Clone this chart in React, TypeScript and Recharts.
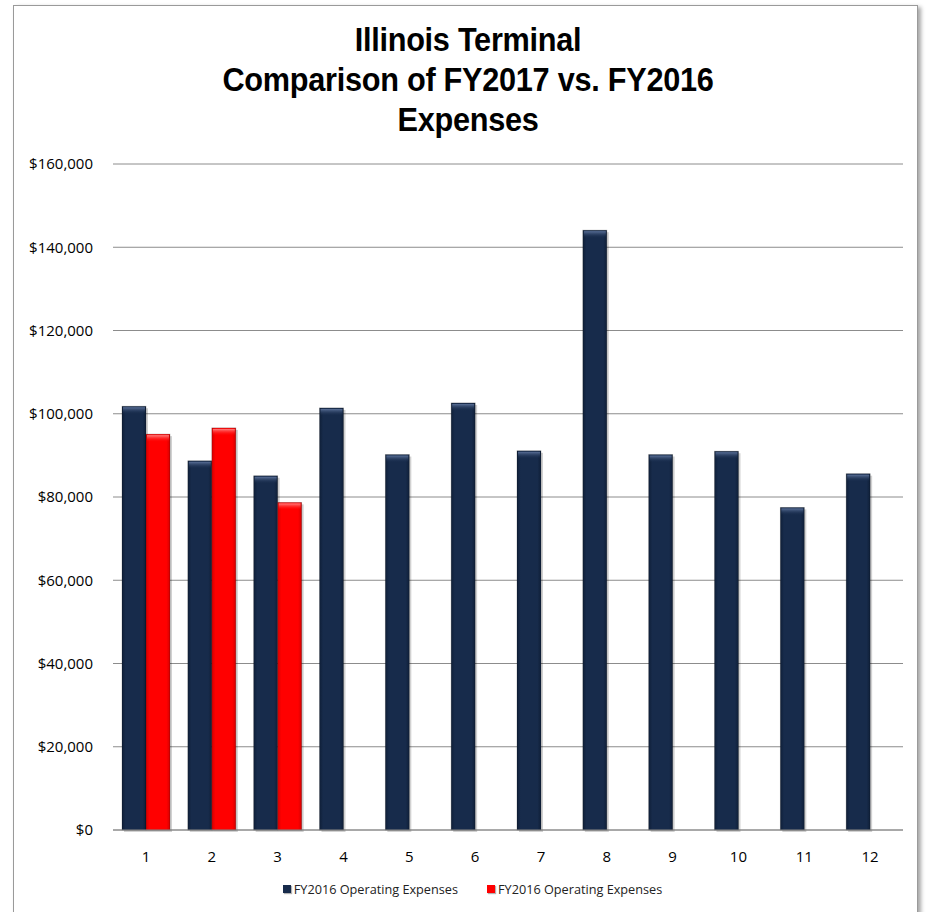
import React from 'react';
import { BarChart, Bar, XAxis, YAxis, CartesianGrid, Legend } from 'recharts';

const months = ['1', '2', '3', '4', '5', '6', '7', '8', '9', '10', '11', '12'];
const fy2016Expenses = [101800, 88700, 85100, 101400, 90200, 102600, 91100, 144100, 90200, 91000, 77500, 85600];
const fy2017Expenses = [95100, 96600, 78700, null, null, null, null, null, null, null, null, null];
const yTicks = [0, 20000, 40000, 60000, 80000, 100000, 120000, 140000, 160000];
const titleLines = ['Illinois Terminal', 'Comparison of FY2017 vs. FY2016', 'Expenses'];

const NAVY = '#172b4b';
const RED = '#ff0000';

const data = months.map((m, i) => ({
  month: m,
  fy2016: fy2016Expenses[i],
  fy2017: fy2017Expenses[i],
}));

const fmtDollar = (v: number) => '$' + v.toLocaleString('en-US');

const BevelBar = (props: any) => {
  const { x, y, width, height, gradId } = props;
  if (!height || height <= 0) return null;
  return (
    <g>
      <rect x={x + 2} y={y + 2} width={width} height={height} fill="rgba(0,0,0,0.18)" />
      <rect x={x} y={y} width={width} height={height} fill={`url(#${gradId})`} stroke="rgba(0,0,0,0.25)" strokeWidth={0.8} />
      <rect x={x + 1} y={y + 1} width={width - 2} height={7} fill={`url(#${gradId}-cap)`} />
    </g>
  );
};

const LegendContent = (props: any) => {
  const { payload } = props;
  return (
    <div style={{ display: 'flex', justifyContent: 'center', gap: 29, fontFamily: "'Open Sans', sans-serif", fontSize: 12.7, color: '#222' }}>
      {(payload || []).map((p: any) => (
        <div key={p.dataKey} style={{ display: 'flex', alignItems: 'center' }}>
          <span style={{ display: 'inline-block', width: 8, height: 8, background: p.color, marginRight: 3, boxShadow: '1px 1px 1px rgba(0,0,0,0.3)' }} />
          <span>{p.value}</span>
        </div>
      ))}
    </div>
  );
};

export default function App() {
  return (
    <div style={{ position: 'absolute', left: 0, top: 0, width: 927, height: 912, overflow: 'hidden', background: '#fff' }}>
      <div style={{ position: 'absolute', left: 13, top: 5, width: 903, height: 930, border: '1px solid #9a9a9a', boxShadow: '3px 2px 4px rgba(0,0,0,0.35)', background: '#fff' }} />
      <div style={{ position: 'absolute', left: 0, top: 20, width: 936, textAlign: 'center', fontFamily: "'Liberation Sans', sans-serif", fontWeight: 'bold', fontSize: 33, lineHeight: '40px', color: '#000', letterSpacing: -0.3, transform: 'scaleX(0.93)', transformOrigin: '468px 0' }}>
        {titleLines.map((t) => (
          <div key={t}>{t}</div>
        ))}
      </div>
      <div style={{ position: 'absolute', left: 0, top: 0 }}>
        <BarChart
          width={927}
          height={912}
          data={data}
          margin={{ top: 164, right: 24, left: 13, bottom: 52 }}
          barCategoryGap={9}
          barGap={0}
        >
          <defs>
            <linearGradient id="navyGrad" x1="0" y1="0" x2="1" y2="0">
              <stop offset="0%" stopColor="#0f1f38" />
              <stop offset="15%" stopColor={NAVY} />
              <stop offset="85%" stopColor={NAVY} />
              <stop offset="100%" stopColor="#0f1f38" />
            </linearGradient>
            <linearGradient id="navyGrad-cap" x1="0" y1="0" x2="0" y2="1">
              <stop offset="0%" stopColor="#5a7098" />
              <stop offset="100%" stopColor={NAVY} stopOpacity={0} />
            </linearGradient>
            <linearGradient id="redGrad" x1="0" y1="0" x2="1" y2="0">
              <stop offset="0%" stopColor="#d40000" />
              <stop offset="15%" stopColor={RED} />
              <stop offset="85%" stopColor={RED} />
              <stop offset="100%" stopColor="#d40000" />
            </linearGradient>
            <linearGradient id="redGrad-cap" x1="0" y1="0" x2="0" y2="1">
              <stop offset="0%" stopColor="#ff8080" />
              <stop offset="100%" stopColor={RED} stopOpacity={0} />
            </linearGradient>
          </defs>
          <CartesianGrid vertical={false} stroke="#8c8c8c" strokeWidth={1} />
          <XAxis
            dataKey="month"
            height={30}
            tickLine={false}
            tickSize={6}
            tickMargin={15}
            axisLine={{ stroke: '#8c8c8c' }}
            tick={{ fill: '#000', fontSize: 15, fontFamily: "'Open Sans', sans-serif" }}
          />
          <YAxis
            width={100}
            domain={[0, 160000]}
            ticks={yTicks}
            tickFormatter={fmtDollar}
            axisLine={false}
            tickLine={false}
            tickSize={6}
            tickMargin={14}
            interval={0}
            tick={{ fill: '#000', fontSize: 15, fontFamily: "'Open Sans', sans-serif" }}
          />
          <Legend
            layout="horizontal"
            verticalAlign="middle"
            align="center"
            wrapperStyle={{ top: 880, left: 9, width: 927 }}
            content={<LegendContent />}
          />
          <Bar
            dataKey="fy2016"
            name="FY2016 Operating Expenses"
            fill={NAVY}
            isAnimationActive={false}
            shape={(p: any) => <BevelBar {...p} gradId="navyGrad" />}
          />
          <Bar
            dataKey="fy2017"
            name="FY2016 Operating Expenses"
            fill={RED}
            isAnimationActive={false}
            shape={(p: any) => <BevelBar {...p} gradId="redGrad" />}
          />
        </BarChart>
      </div>
    </div>
  );
}
